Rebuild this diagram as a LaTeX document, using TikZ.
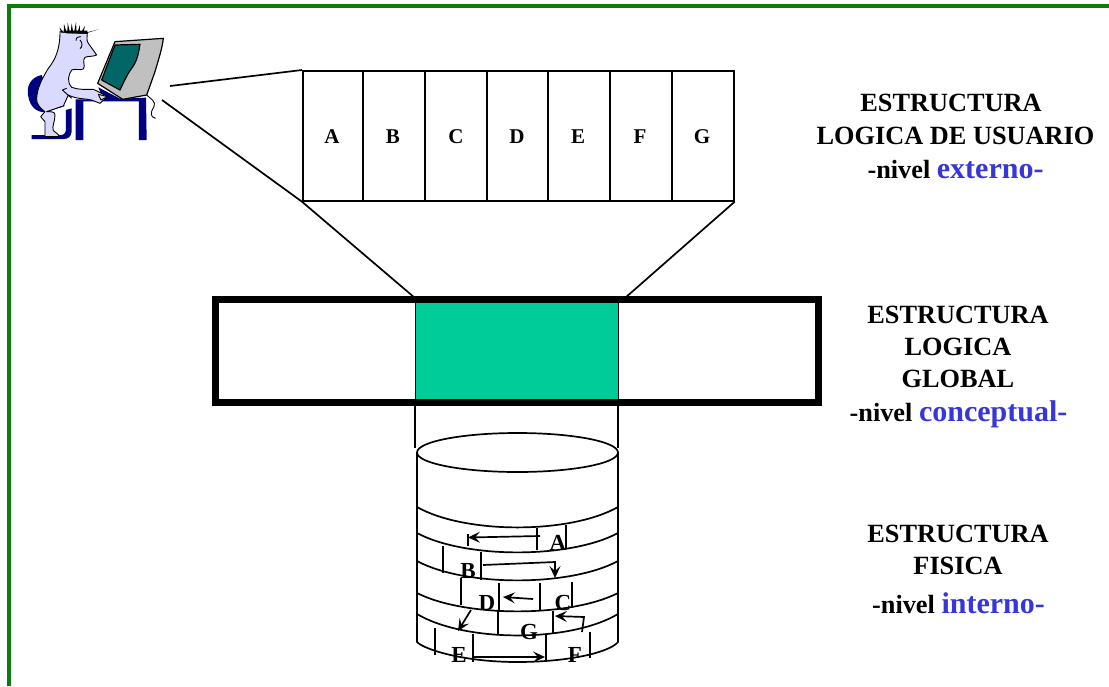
\documentclass[tikz,border=0pt]{standalone}
\usepackage{fontspec}
\setmainfont{Liberation Serif}
\usetikzlibrary{arrows.meta}
\definecolor{frameg}{RGB}{10,125,10}
\definecolor{lblue}{RGB}{55,55,215}
\definecolor{mint}{RGB}{0,204,153}
\definecolor{skin}{RGB}{218,218,255}
\definecolor{navy2}{RGB}{0,0,128}
\definecolor{teal2}{RGB}{0,102,102}
\definecolor{grey2}{RGB}{192,192,192}
\tikzset{
 ln/.style={line width=1.7pt,black},
 fr/.style={line width=4pt,frameg},
 lab/.style={font=\fontsize{26.3}{28}\selectfont\bfseries,inner sep=0,align=center},
 lt/.style={font=\fontsize{21}{23}\selectfont\bfseries,inner sep=0},
 lc/.style={font=\fontsize{23}{25}\selectfont\bfseries,inner sep=0},
 arr/.style={ln,-{Stealth[length=12pt,width=11pt,inset=5pt]}},
 pic1/.style={line width=0.9pt,black,line join=round},
}
\newcommand{\nv}[2]{-nivel {\fontsize{#2}{24}\selectfont\color{lblue}#1-}}
\newcommand{\band}[2]{\draw[ln] (417,#1) .. controls (465,#1+1.36*#2) and (570,#1+1.36*#2) .. (618,#1);}
\newcommand{\spike}[3]{\fill[black] (#1-4,#2) -- (#3) -- (#1+4,#2) -- cycle;}
\begin{document}
\begin{tikzpicture}[x=1pt,y=-1pt]
\useasboundingbox (0,0) rectangle (1109,686);
\fill[white] (0,0) rectangle (1109,686);
% frame
\draw[fr] (8.5,686) -- (8.5,6) -- (1109,6);

% user
\begin{scope}[scale=1/3]
 % chair back and seat
 \fill[navy2] (125,225) .. controls (90,232) and (78,262) .. (85,290) .. controls (90,320) and (110,337) .. (135,337) -- (195,318) -- (150,290) -- cycle;
 % chair stem and base
 \fill[navy2] (198,330) -- (215,325) -- (215,395) .. controls (213,410) and (205,417) .. (190,417) -- (95,417) -- (95,405) -- (185,405) .. controls (195,403) and (198,395) .. (198,385) -- cycle;
 % table
 \fill[navy2] (295,262) -- (360,296) -- (438,293) -- (440,420) -- (417,420) -- (417,304) -- (250,304) -- (250,420) -- (227,420) -- (227,298) -- (310,298) -- cycle;
 % body
 \draw[pic1,fill=skin] (180,95) -- (205,98) -- (262,100) .. controls (262,110) and (258,120) .. (265,130) -- (290,165) .. controls (280,170) and (265,168) .. (255,172) .. controls (245,180) and (258,200) .. (250,207) .. controls (240,212) and (225,205) .. (215,210) .. controls (205,225) and (200,245) .. (215,262) .. controls (235,270) and (260,268) .. (280,268) -- (295,275) -- (322,290) -- (300,310) -- (275,300) .. controls (255,295) and (230,298) .. (205,285) -- (190,318) .. controls (175,322) and (155,330) .. (140,335) .. controls (155,335) and (165,335) .. (165,345) .. controls (165,365) and (155,380) .. (160,392) .. controls (170,400) and (180,405) .. (175,410) -- (135,410) -- (135,365) -- (122,350) -- (135,335) .. controls (120,325) and (108,310) .. (110,295) .. controls (112,260) and (130,230) .. (145,205) .. controls (165,180) and (180,150) .. (180,95) -- cycle;
 \draw[pic1] (243,110) .. controls (230,110) and (225,118) .. (228,122) (240,120) .. controls (248,128) and (248,140) .. (240,146);
 \draw[pic1] (200,265) -- (187,270) -- (215,295);
 % hair
 \spike{188}{98}{178,82}
 \spike{196}{98}{192,72}
 \spike{206}{98}{203,68}
 \spike{216}{99}{215,70}
 \spike{226}{99}{228,66}
 \spike{236}{99}{240,74}
 \spike{246}{99}{255,78}
 \spike{254}{100}{296,88}
 \fill[black] (190,92) -- (262,92) -- (262,101) -- (200,100) -- cycle;
 % monitor
 \draw[pic1,line width=1.2pt,fill=grey2] (345,125) -- (490,115) .. controls (487,145) and (475,180) .. (465,215) -- (440,285) -- (368,298) -- (293,250) -- cycle;
 \draw[pic1,line width=1.2pt,fill=teal2] (345,135) -- (420,133) .. controls (415,165) and (410,185) .. (395,205) .. controls (380,225) and (372,245) .. (360,270) -- (305,240) -- cycle;
 \draw[pic1] (440,285) .. controls (450,295) and (470,305) .. (462,320) .. controls (450,340) and (450,350) .. (467,355);
 % hand
 \draw[pic1,fill=skin] (295,283) -- (322,290) -- (303,300) -- cycle;
\end{scope}

% top table
\coordinate (u1) at (170,86);
\coordinate (u2) at (162,100);
\node[draw,ln,minimum width=431pt,minimum height=130pt,inner sep=0,anchor=north west] (tab) at (302,70) {};
\foreach \x in {363,425,487,548,610,672} \draw[ln] (\x,70) -- (\x,200);
\foreach \t/\x in {A/332,B/393,C/456,D/517,E/578,F/640,G/702} \node[lt] (n\t) at (\x,137) {\t};
\draw[ln] (u1) -- (tab.north west);
\draw[ln] (u2) -- (tab.south west);

% global rectangle
\fill[mint] (416,300) rectangle (619,402);
\draw[line width=7pt] (215.5,299.5) rectangle (818.5,402);
\draw[ln] (415.5,299.5) -- (415.5,402);
\draw[ln] (618.5,299.5) -- (618.5,402);
\coordinate (g1) at (415,298);
\coordinate (g2) at (625,298);
\draw[ln] (tab.south west) -- (g1);
\draw[ln] (tab.south east) -- (g2);
\coordinate (c1) at (415,405);
\coordinate (c2) at (618,405);
\coordinate (c1b) at (415,448);
\coordinate (c2b) at (618,448);
\draw[ln] (c1) -- (c1b);
\draw[ln] (c2) -- (c2b);

% cylinder
\draw[ln] (417,452.5) -- (417,642) .. controls (425,650) and (465,662) .. (517,662) .. controls (570,662) and (610,652) .. (618,642) -- (618,452.5);
\draw[ln] (517.5,452.5) ellipse (100.5pt and 19.5pt);
\band{507}{20}
\band{533}{19}
\band{561}{19}
\band{593}{18}
\band{614}{21}
\foreach \x/\a/\b in {537/528/550,566/525/548,443/546/573,481/552/580,461/578/605,499/583/611,540/583/610,572/582/608,498/611/634,553/611/633,435/628/655,473/634/662,546/635/662,590/632/658}
  \draw[ln] (\x,\a) -- (\x,\b);
\node[lc] (cA) at (558,543) {A};
\node[lc] (cB) at (468,571) {B};
\node[lc] (cD) at (487,603) {D};
\node[lc] (cC) at (563,603) {C};
\node[lc] (cG) at (529,632) {G};
\node[lc] (cE) at (459,655) {E};
\node[lc] (cF) at (575,655) {F};
\coordinate (a1) at (540,536); \coordinate (a2) at (468,537.5);
\coordinate (b1) at (483,565); \coordinate (b2) at (555,562); \coordinate (b3) at (555,578);
\coordinate (d1) at (533,599); \coordinate (d2) at (503,597);
\coordinate (f1) at (582,632); \coordinate (f2) at (584,617); \coordinate (f3) at (555,616);
\coordinate (e1) at (471,610); \coordinate (e2) at (458,631);
\coordinate (h1) at (472,657); \coordinate (h2) at (545,657);
\draw[arr] (a1) -- (a2);
\draw[ln] (468,534) -- (468,546);
\draw[arr] (b1) -- (b2) -- (b3);
\draw[arr] (d1) -- (d2);
\draw[arr] (f1) -- (f2) -- (f3);
\draw[arr] (e1) -- (e2);
\draw[arr] (h1) -- (h2);

% labels
\node[lab] (l1) at (951,103) {ESTRUCTURA};
\node[lab] (l2) at (955.5,136) {LOGICA DE USUARIO};
\node[lab] (l3) at (955.5,170) {\nv{externo}{30}};
\node[lab] (l4) at (958,315) {ESTRUCTURA};
\node[lab] (l5) at (958,347) {LOGICA};
\node[lab] (l6) at (958,379) {GLOBAL};
\node[lab] (l7) at (958.5,414) {\nv{conceptual}{30}};
\node[lab] (l8) at (958,534) {ESTRUCTURA};
\node[lab] (l9) at (958,566) {FISICA};
\node[lab] (l10) at (958.5,603) {\nv{interno}{30}};
\end{tikzpicture}
\end{document}
